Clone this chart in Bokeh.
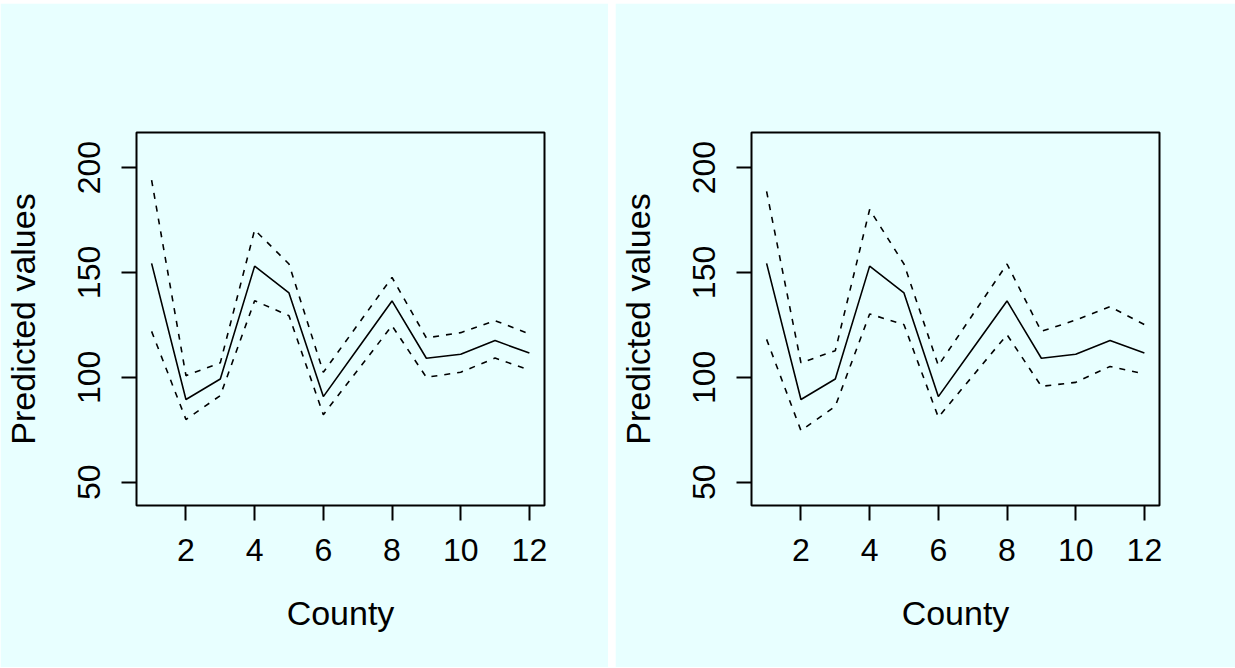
from bokeh.plotting import figure
from bokeh.layouts import row, column
from bokeh.models import Range1d, FixedTicker, Spacer
from bokeh.embed import file_html
from bokeh.resources import INLINE

county = [1, 2, 3, 4, 5, 6, 7, 8, 9, 10, 11, 12]
pred = [154.3, 89.4, 99.2, 153.0, 140.2, 90.8, 113.6, 136.4, 109.1, 111.0, 117.5, 111.6]

upper_a = [194.0, 100.8, 106.9, 170.3, 154.0, 102.4, 125.0, 147.6, 118.8, 121.3, 127.0, 120.7]
lower_a = [121.9, 79.9, 91.3, 136.5, 129.4, 82.2, 103.4, 124.6, 100.0, 102.4, 109.2, 103.5]

upper_b = [188.6, 106.9, 112.7, 180.0, 154.0, 105.6, 129.8, 154.0, 121.9, 127.3, 133.7, 125.1]
lower_b = [118.1, 74.6, 86.2, 130.2, 125.1, 81.0, 100.6, 120.3, 95.7, 97.6, 105.2, 101.6]

x_ticks = [2, 4, 6, 8, 10, 12]
y_ticks = [50, 100, 150, 200]
x_label = "County"
y_label = "Predicted values"

BG = "#E8FFFF"
FONT = "Liberation Sans"


def panel(upper, lower, width, border_left, border_right):
    p = figure(width=width, height=664, output_backend="svg", toolbar_location=None,
               x_range=Range1d(0.56, 12.44), y_range=Range1d(38.9, 216.7),
               min_border_left=border_left, min_border_right=border_right,
               min_border_top=129, min_border_bottom=162)
    p.background_fill_color = BG
    p.border_fill_color = BG
    p.outline_line_color = "black"
    p.outline_line_width = 2
    p.grid.visible = False
    p.line(county, pred, line_color="black", line_width=1.6)
    p.line(county, upper, line_color="black", line_width=1.6, line_dash="6 7")
    p.line(county, lower, line_color="black", line_width=1.6, line_dash="6 7")
    for ax, ticks in ((p.xaxis[0], x_ticks), (p.yaxis[0], y_ticks)):
        ax.ticker = FixedTicker(ticks=ticks)
        ax.axis_line_color = None
        ax.major_tick_out = 15
        ax.major_tick_in = 0
        ax.major_tick_line_width = 2
        ax.major_tick_line_color = "black"
        ax.minor_tick_line_color = None
        ax.major_label_text_font = FONT
        ax.major_label_text_font_size = "32px"
        ax.major_label_text_color = "black"
        ax.axis_label_text_font = FONT
        ax.axis_label_text_font_size = "34px"
        ax.axis_label_text_font_style = "normal"
        ax.axis_label_text_color = "black"
    p.xaxis[0].major_label_standoff = 18
    p.yaxis[0].major_label_standoff = 21
    p.xaxis[0].axis_label = x_label
    p.xaxis[0].axis_label_standoff = 30
    p.yaxis[0].axis_label = y_label
    p.yaxis[0].axis_label_standoff = 34
    p.yaxis[0].major_label_orientation = "vertical"
    return p


p1 = panel(upper_a, lower_a, 608, 135, 64)
p2 = panel(upper_b, lower_b, 620, 135, 76)
layout = column(Spacer(height=3),
                row(p1, Spacer(width=7), p2, spacing=0),
                spacing=0)

open("out.html", "w").write(file_html(layout, INLINE))
